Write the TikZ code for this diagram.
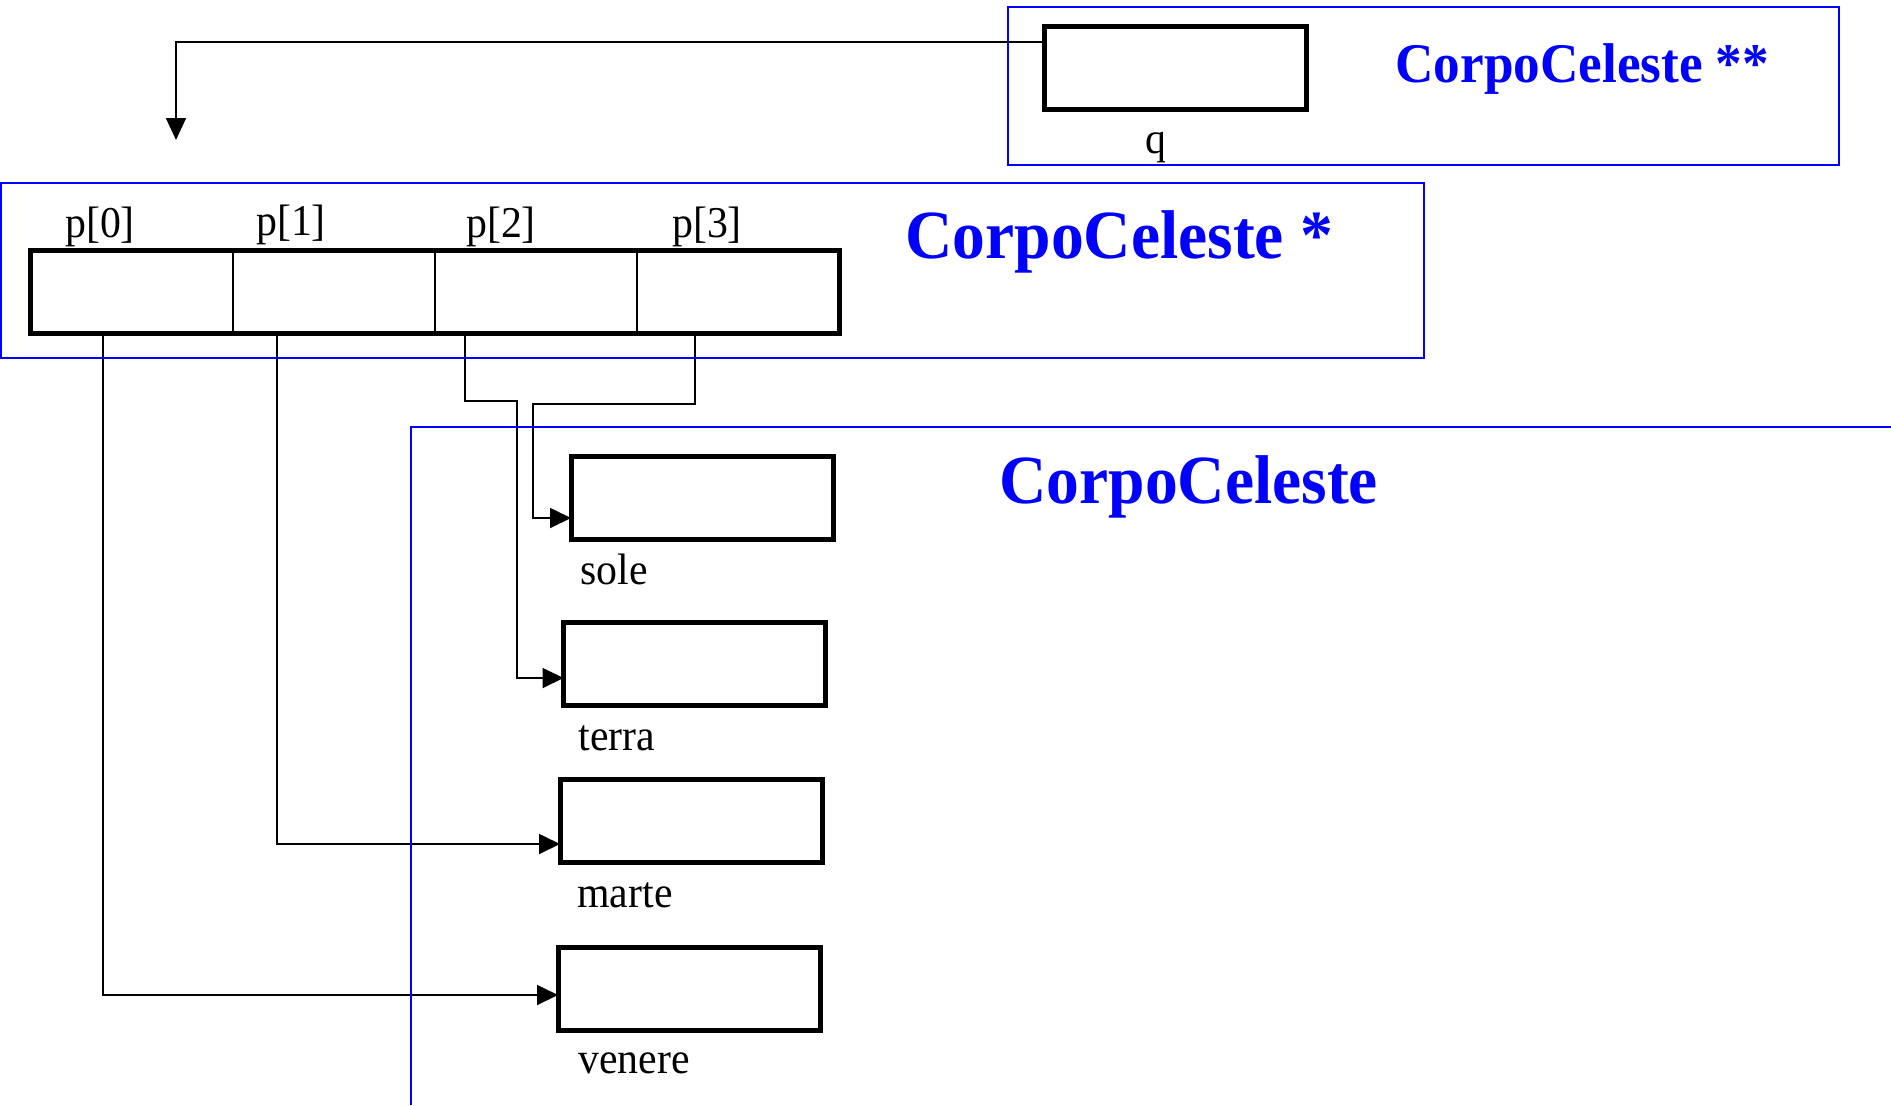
\documentclass[tikz,border=0pt]{standalone}
\usepackage{fontspec}
\setmainfont{Liberation Serif}[FakeStretch=0.95]
\usepackage{tikz}
\usetikzlibrary{arrows.meta,positioning,calc}

\tikzset{
    frame/.style={draw=blue, line width=1pt},
    objbox/.style={rectangle, draw, line width=2.5pt, minimum width=131pt, minimum height=41.5pt, inner sep=0pt, outer sep=0pt},
    cell/.style={rectangle, draw, line width=1.2pt, minimum width=101.1pt, minimum height=41.5pt, inner sep=0pt, outer sep=0pt},
    varname/.style={font=\fontsize{22}{26}\selectfont, inner sep=0pt},
    typename/.style={text=blue, font=\bfseries\fontsize{#1}{40}\selectfont, inner sep=0pt, anchor=base west},
    ptr/.style={-{Triangle[length=10.5pt,width=10pt]}, line width=0.9pt}
}

\begin{document}
\begin{tikzpicture}[x=0.5pt, y=-0.5pt]
\useasboundingbox (0,0) rectangle (1891,1105);

% the double pointer q
\node[objbox] (qbox) at (1175.5,68) {};
\node[varname, anchor=base] (lq) at (1156,153) {q};
\node[typename=28] (tqq) at (1395,82) {CorpoCeleste **};

% the array p of pointers
\node[cell] (p0) at (131.6,292) {};
\node[cell, right=0pt of p0] (p1) {};
\node[cell, right=0pt of p1] (p2) {};
\node[cell, right=0pt of p2] (p3) {};
\draw[line width=2.5pt] (p0.north west) rectangle (p3.south east);
\node[varname, anchor=base] (lp0) at (100,237) {p[0]};
\node[varname, anchor=base] (lp1) at (291,235) {p[1]};
\node[varname, anchor=base] (lp2) at (501,237) {p[2]};
\node[varname, anchor=base] (lp3) at (707,237) {p[3]};
\node[typename=34.5] (tp) at (905,258) {CorpoCeleste *};

% the objects
\node[objbox] (sole) at (702,498) {};
\node[objbox] (terra) at (694.5,663.5) {};
\node[objbox] (marte) at (691,821) {};
\node[objbox] (venere) at (689,988.5) {};
\node[varname, anchor=base west] (lsole) at (580,584) {sole};
\node[varname, anchor=base west] (lterra) at (578,750) {terra};
\node[varname, anchor=base west] (lmarte) at (577,907) {marte};
\node[varname, anchor=base west] (lvenere) at (578,1073) {venere};
\node[typename=34.5] (tobj) at (999,503) {CorpoCeleste};

% pointers
\coordinate (qend) at (176,140);
\draw[ptr, -{Triangle[length=11pt,width=10pt]}] ([yshift=13pt]qbox.west) -| (qend);
\draw[ptr] ([xshift=-14.3pt]p0.south) |- ([yshift=-3.25pt]venere.west);
\draw[ptr] ([xshift=-28.45pt]p1.south) |- ([yshift=-11.5pt]marte.west);
\draw[ptr] ([xshift=-35.5pt]p2.south) |- (517,401) |- ([yshift=-7.25pt]terra.west);
\draw[ptr] ([xshift=-21.7pt]p3.south) |- (533,404) |- ([yshift=-10pt]sole.west);

% type frames
\draw[frame] (1008,7) rectangle (1839,165);
\draw[frame] (1,183) rectangle (1424,358);
\draw[frame] (1891,427) -- (411,427) -- (411,1105);
\end{tikzpicture}
\end{document}
